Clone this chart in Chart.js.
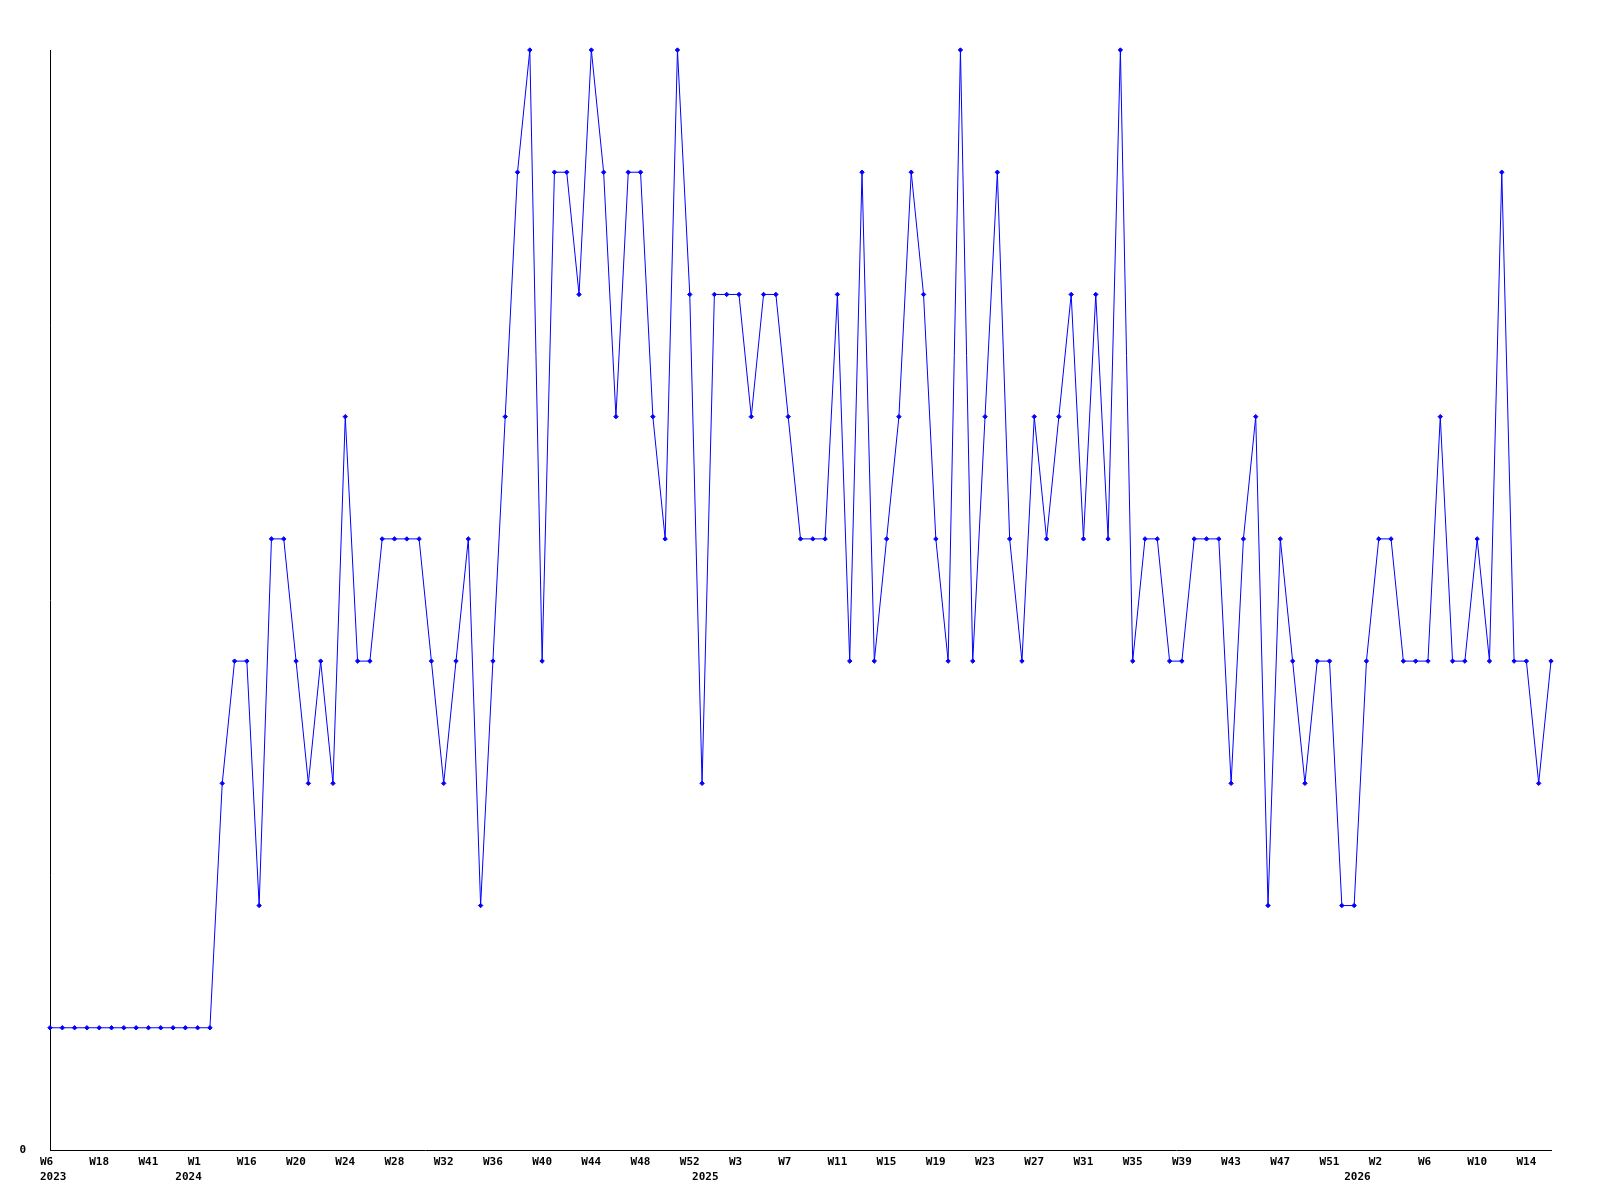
<!DOCTYPE html>
<html>
<head>
<meta charset="utf-8">
<title>Weekly chart</title>
<script src="https://cdn.jsdelivr.net/npm/chart.js@4.4.1/dist/chart.umd.min.js"></script>
<style>
  html, body { margin: 0; padding: 0; background: #fff; }
  canvas { display: block; }
</style>
</head>
<body>
<canvas id="myChart" width="1600" height="1200"></canvas>
<script>
// week numbers per year (only every 4th one is shown on the axis)
function range(a, b) {
  const out = [];
  for (let w = a; w <= b; w++) out.push(w);
  return out;
}
const weeks2023 = [6, 9, 12, 15, 18, 23, 29, 35, 41, 45, 49];
const weeks2024 = [0, 1, 10, 14, 15].concat(range(16, 52));
const weeks2025 = range(0, 52);
const weeks2026 = range(0, 16);

// values
const values2023 = [1, 1, 1, 1, 1, 1, 1, 1, 1, 1, 1];
const values2024 = [1, 1, 1, 3, 4, 4, 2, 5, 5, 4, 3, 4, 3, 6, 4, 4, 5, 5, 5, 5, 4,
  3, 4, 5, 2, 4, 6, 8, 9, 4, 8, 8, 7, 9, 8, 6, 8, 8, 6, 5, 9, 7];
const values2025 = [3, 7, 7, 7, 6, 7, 7, 6, 5, 5, 5, 7, 4, 8, 4, 5, 6, 8, 7, 5, 4,
  9, 4, 6, 8, 5, 4, 6, 5, 6, 7, 5, 7, 5, 9, 4, 5, 5, 4, 4, 5, 5, 5, 3, 5, 6, 2, 5,
  4, 3, 4, 4, 2];
const values2026 = [2, 4, 5, 5, 4, 4, 4, 6, 4, 4, 5, 4, 8, 4, 4, 3, 4];

const yearList = [2023, 2024, 2025, 2026];
const weekLists = [weeks2023, weeks2024, weeks2025, weeks2026];
const valueLists = [values2023, values2024, values2025, values2026];

const labels = [];
const years = [];
const values = [];
yearList.forEach((y, k) => {
  weekLists[k].forEach(w => { labels.push('W' + w); years.push(y); });
  valueLists[k].forEach(v => values.push(v));
});

const ctx = document.getElementById('myChart').getContext('2d');
const tickFont = { family: '"DejaVu Sans Mono", monospace', size: 11, weight: 'bold', lineHeight: '15px' };

const myChart = new Chart(ctx, {
  type: 'line',
  data: {
    labels: labels,
    datasets: [{
      data: values,
      borderColor: '#0000ff',
      backgroundColor: '#0000ff',
      borderWidth: 1,
      tension: 0,
      pointStyle: 'rectRot',
      pointRadius: 2.2,
      pointBorderWidth: 1,
      pointBackgroundColor: '#0000ff',
      pointBorderColor: '#0000ff',
      clip: false
    }]
  },
  options: {
    responsive: false,
    animation: false,
    devicePixelRatio: 1,
    layout: { padding: { left: 0, right: 49, top: 50, bottom: 0 } },
    plugins: {
      legend: { display: false },
      tooltip: { enabled: false }
    },
    scales: {
      x: {
        type: 'category',
        offset: false,
        grid: { display: false, drawTicks: false },
        border: { display: true, color: '#000', width: 1 },
        afterFit: (axis) => { axis.height = 50; },
        ticks: {
          autoSkip: false,
          maxRotation: 0,
          minRotation: 0,
          align: 'start',
          labelOffset: -10,
          padding: 5,
          color: '#000',
          font: tickFont,
          callback: function(value, index) {
            const showWeek = index % 4 === 0;
            const newYear = index === 0 || years[index] !== years[index - 1];
            if (!showWeek && !newYear) return null;
            return [showWeek ? labels[index] : '', newYear ? String(years[index]) : ''];
          }
        }
      },
      y: {
        min: 0,
        max: 9,
        grid: { display: false, drawTicks: false },
        border: { display: true, color: '#000', width: 1 },
        afterFit: (axis) => { axis.width = 50; },
        ticks: {
          stepSize: 1,
          padding: 24,
          color: '#000',
          font: tickFont,
          callback: (v) => v === 0 ? '0' : ''
        }
      }
    }
  }
});
</script>
</body>
</html>
